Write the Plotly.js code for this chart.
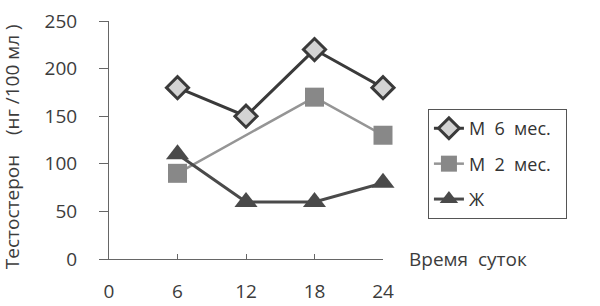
<!DOCTYPE html>
<html><head><meta charset="utf-8">
<script src="https://cdn.plot.ly/plotly-3.0.1.min.js"></script>
<style>body{margin:0}#c{width:600px;height:306px}</style>
</head><body><div id="c"></div>
<script>
const hours = [6, 12, 18, 24];
const m6 = [180, 150, 220, 180];
const m2Hours = [6, 18, 24];
const m2 = [90, 170, 130];
const f = [110, 60, 60, 80];
const xTicks = [0, 6, 12, 18, 24];
const yTicks = [0, 50, 100, 150, 200, 250];
const names = ['М\u00a0\u00a06\u00a0\u00a0мес.\u00a0\u00a0', 'М\u00a0\u00a02\u00a0\u00a0мес.\u00a0\u00a0', 'Ж'];

const FONT = 'Open Sans, Liberation Sans, sans-serif';
const TXT = '#3c3c3c';
const traces = [
  {x: hours, y: m6, name: names[0], legendgroup: 'a', mode: 'lines+markers', cliponaxis: false,
   line: {color: '#3a3a3a', width: 3},
   marker: {symbol: 'diamond', size: 17, color: '#d3d3d3', line: {color: '#3a3a3a', width: 3}}},
  {x: m2Hours, y: m2, name: names[1], legendgroup: 'b', mode: 'lines+markers', cliponaxis: false,
   line: {color: '#959595', width: 2.5},
   marker: {symbol: 'square', size: 19, color: '#888888', line: {width: 0}}},
  {x: hours, y: f, name: names[2], legendgroup: 'c', mode: 'lines+markers', cliponaxis: false,
   line: {color: '#4a4a4a', width: 3},
   marker: {symbol: 'triangle-up', size: 20, color: '#4a4a4a', line: {width: 0}}}
];
const layout = {
  width: 600, height: 306,
  margin: {l: 109, r: 217, t: 21, b: 47},
  paper_bgcolor: '#fff', plot_bgcolor: '#fff',
  font: {family: FONT, color: TXT, size: 18},
  showlegend: true,
  legend: {x: 1.164, y: 0.63, xanchor: 'left', yanchor: 'top',
    bordercolor: '#555', borderwidth: 1, bgcolor: '#fff',
    font: {family: FONT, size: 18, color: '#333'},
    tracegroupgap: 9},
  xaxis: {range: [0, 24], tickvals: xTicks, ticktext: xTicks.map(String),
    showgrid: false, zeroline: false, showline: true, linecolor: '#666', linewidth: 1,
    ticks: 'inside', ticklen: 5, tickcolor: '#666', ticklabelstandoff: 15,
    tickfont: {size: 19, color: TXT}},
  yaxis: {range: [0, 250], tickvals: yTicks, ticktext: yTicks.map(String),
    showgrid: false, zeroline: false, showline: true, linecolor: '#666', linewidth: 1,
    ticks: 'outside', ticklen: 9, tickcolor: '#666', ticklabelstandoff: 18,
    tickfont: {size: 19, color: TXT}},
  annotations: [
    {text: 'Тестостерон\u00a0\u00a0\u00a0\u00a0(нг /100 мл )', textangle: -90,
     xref: 'paper', yref: 'paper', x: -97/274, y: 0.47, xanchor: 'center', yanchor: 'middle',
     showarrow: false, font: {size: 19, color: TXT}},
    {text: 'Время\u00a0\u00a0суток', xref: 'paper', yref: 'paper', x: 298/274, y: 0.0,
     xanchor: 'left', yanchor: 'middle', showarrow: false, font: {size: 19, color: TXT}}
  ]
};
Plotly.newPlot('c', traces, layout, {displayModeBar: false});
</script></body></html>
